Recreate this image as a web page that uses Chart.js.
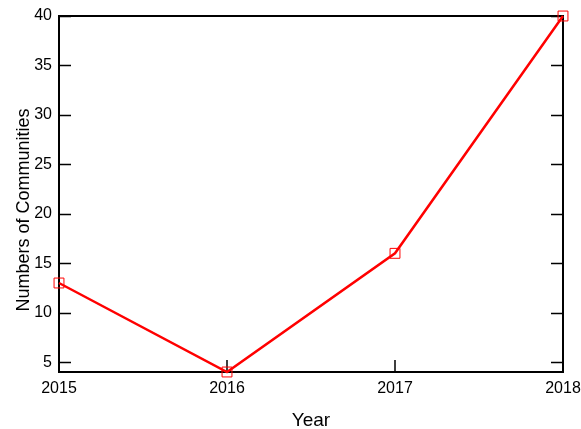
<!DOCTYPE html>
<html><head><meta charset="utf-8">
<script src="https://cdn.jsdelivr.net/npm/chart.js@4"></script>
<style>html,body{margin:0;padding:0;background:#fff}#c{display:block}</style>
</head><body>
<canvas id="c" width="581" height="429"></canvas>
<script>
const years = [2015, 2016, 2017, 2018];
const communities = [13, 4, 16, 40];
const yTicks = [5, 10, 15, 20, 25, 30, 35, 40];
const xTicks = [2015, 2016, 2017, 2018];
const FONT = "'Liberation Sans', Arial, sans-serif";

const frame = {
  id: 'frame',
  beforeDatasetsDraw(chart) {
    const {ctx, chartArea: a, scales} = chart;
    ctx.save();
    ctx.strokeStyle = '#000';
    ctx.lineWidth = 1.5;
    ctx.beginPath();
    yTicks.forEach(v => {
      const y = Math.round(scales.y.getPixelForValue(v)) + 0.5;
      ctx.moveTo(a.left, y); ctx.lineTo(a.left + 12, y);
      ctx.moveTo(a.right, y); ctx.lineTo(a.right - 12, y);
    });
    xTicks.forEach(v => {
      const x = Math.round(scales.x.getPixelForValue(v));
      ctx.moveTo(x, a.bottom); ctx.lineTo(x, a.bottom - 12);
    });
    ctx.stroke();
    ctx.lineWidth = 2;
    ctx.strokeRect(a.left, a.top, a.right - a.left, a.bottom - a.top);
    ctx.restore();
  }
};

new Chart(document.getElementById('c'), {
  type: 'line',
  data: {
    datasets: [{
      data: years.map((x, i) => ({x, y: communities[i]})),
      borderColor: '#ff0000',
      borderWidth: 2.5,
      pointStyle: 'rect',
      pointRadius: 7,
      pointBorderWidth: 1,
      pointBorderColor: '#ff0000',
      pointBackgroundColor: 'rgba(0,0,0,0)',
      tension: 0,
      clip: false
    }]
  },
  plugins: [frame],
  options: {
    responsive: false,
    animation: false,
    events: [],
    layout: {padding: {left: 9, right: 18, top: 16, bottom: 0}},
    plugins: {legend: {display: false}, tooltip: {enabled: false}},
    scales: {
      x: {
        type: 'linear', min: 2015, max: 2018,
        afterBuildTicks: s => { s.ticks = xTicks.map(v => ({value: v})); },
        afterFit: s => { s.height = 57; s.paddingLeft = 0; s.paddingRight = 0; },
        grid: {display: false, drawTicks: false},
        border: {display: false},
        ticks: {color: '#000', padding: 7, font: {family: FONT, size: 16}, callback: v => String(v), maxRotation: 0},
        title: {display: true, text: 'Year', color: '#000', font: {family: FONT, size: 19}, padding: {top: 17, bottom: -3}}
      },
      y: {
        min: 4, max: 40,
        afterBuildTicks: s => { s.ticks = yTicks.map(v => ({value: v})); },
        afterFit: s => {
          s.width = 50; s.paddingTop = 0; s.paddingBottom = 0;
          if (!s._titleShifted) {
            const base = Object.getPrototypeOf(s).drawTitle;
            s.drawTitle = function () {
              this.ctx.save(); this.ctx.translate(0, 16);
              base.call(this);
              this.ctx.restore();
            };
            s._titleShifted = true;
          }
        },
        grid: {display: false, drawTicks: false},
        border: {display: false},
        ticks: {color: '#000', padding: 7, font: {family: FONT, size: 16}},
        title: {display: true, text: 'Numbers of Communities', color: '#000', font: {family: FONT, size: 18}, padding: {bottom: 0}}
      }
    }
  }
});
</script>
</body></html>
